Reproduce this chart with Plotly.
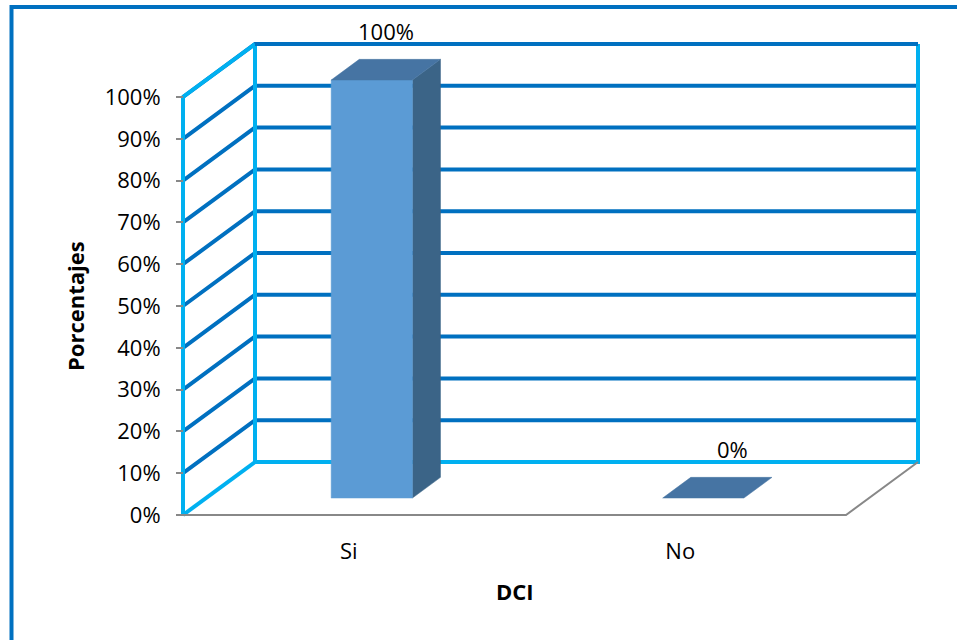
import plotly.graph_objects as go

# ---- data -------------------------------------------------------------
categories = ["Si", "No"]
values = [100, 0]
value_labels = ["100%", "0%"]
y_ticks = [0, 10, 20, 30, 40, 50, 60, 70, 80, 90, 100]
y_tick_labels = [f"{t}%" for t in y_ticks]
x_title = "DCI"
y_title = "Porcentajes"

# ---- styling / geometry of the pseudo-3D box ---------------------------
W, H = 957, 640
PX_X = 331.5          # pixels per category unit
PX_Y = 4.18           # pixels per percent
DX = 72 / PX_X        # depth offset in category units
DY = 53 / PX_Y        # depth offset in percent units
PAD = 6               # px of room around the box so edge lines are not clipped
FRONT_LEFT_PX, FLOOR_PX = 183, 515

D_FRONT, D_BACK = 0.32, 0.71   # bar depth position (fraction of the box depth)
HALF_W = 0.1225                # bar half width in category units

DARK = "#0070C0"
LIGHT = "#00B0F0"
GREY = "#888888"
FACE = "#5B9BD5"
TOP_FACE = "#4674A3"
SIDE_FACE = "#3B6487"
FONT = "Open Sans"
FS = 22

n = len(categories)
x0, x1 = -0.5, n - 0.5
ymax = max(y_ticks)

x_range = [x0 - PAD / PX_X, x1 + DX + PAD / PX_X]
y_range = [-PAD / PX_Y, ymax + DY + PAD / PX_Y]
plot_w = (x_range[1] - x_range[0]) * PX_X
plot_h = (y_range[1] - y_range[0]) * PX_Y
m_l = FRONT_LEFT_PX - PAD
m_r = W - m_l - plot_w
m_b = H - FLOOR_PX - PAD
m_t = H - m_b - plot_h


def proj(x, y, d):
    """Project a point at depth fraction d onto the 2-D axes."""
    return x + d * DX, y + d * DY


def segs(pairs):
    xs, ys = [], []
    for pts in pairs:
        for p in pts:
            xs.append(p[0]); ys.append(p[1])
        xs.append(None); ys.append(None)
    return xs, ys


def to_paper_x(px):
    return (px - m_l) / plot_w


def to_paper_y(py):
    return (H - m_b - py) / plot_h


fig = go.Figure()

# gridlines on side wall and back wall
grid = []
for t in y_ticks[1:]:
    grid.append([proj(x0, t, 0), proj(x0, t, 1), proj(x1, t, 1)])
gx, gy = segs(grid)
fig.add_trace(go.Scatter(x=gx, y=gy, mode="lines",
                         line=dict(color=DARK, width=4), hoverinfo="skip"))

# wall outlines
outline = [
    [proj(x0, 0, 0), proj(x0, ymax, 0), proj(x0, ymax, 1)],
    [proj(x0, 0, 0), proj(x0, 0, 1)],
    [proj(x0, 0, 1), proj(x0, ymax, 1)],
    [proj(x0, 0, 1), proj(x1, 0, 1), proj(x1, ymax, 1)],
]
ox, oy = segs(outline)
fig.add_trace(go.Scatter(x=ox, y=oy, mode="lines",
                         line=dict(color=LIGHT, width=4), hoverinfo="skip"))

# top edge of back wall
tx, ty = segs([[proj(x0, ymax, 1), proj(x1, ymax, 1)]])
fig.add_trace(go.Scatter(x=tx, y=ty, mode="lines",
                         line=dict(color=DARK, width=4), hoverinfo="skip"))

# floor edges
fx, fy = segs([[proj(x0, 0, 0), proj(x1, 0, 0), proj(x1, 0, 1)]])
fig.add_trace(go.Scatter(x=fx, y=fy, mode="lines",
                         line=dict(color=GREY, width=2), hoverinfo="skip"))


def poly(pts, color):
    xs = [p[0] for p in pts] + [pts[0][0]]
    ys = [p[1] for p in pts] + [pts[0][1]]
    fig.add_trace(go.Scatter(x=xs, y=ys, mode="lines", fill="toself",
                             fillcolor=color, line=dict(color=color, width=0.5),
                             hoverinfo="skip"))


# bars
for i, v in enumerate(values):
    l, r = i - HALF_W, i + HALF_W
    if v > 0:
        poly([proj(r, 0, D_FRONT), proj(r, 0, D_BACK),
              proj(r, v, D_BACK), proj(r, v, D_FRONT)], SIDE_FACE)
        poly([proj(l, 0, D_FRONT), proj(r, 0, D_FRONT),
              proj(r, v, D_FRONT), proj(l, v, D_FRONT)], FACE)
    poly([proj(l, v, D_FRONT), proj(r, v, D_FRONT),
          proj(r, v, D_BACK), proj(l, v, D_BACK)], TOP_FACE)

# value labels above each bar
for i, (v, lab) in enumerate(zip(values, value_labels)):
    lx, _ = proj(i, v, (D_FRONT + D_BACK) / 2)
    ly = v + D_BACK * DY
    fig.add_annotation(x=lx, y=ly, text=lab, showarrow=False,
                       xanchor="center", yanchor="middle",
                       yshift=28, xshift=0 if v > 0 else 15,
                       font=dict(family=FONT, size=FS, color="black"))

# axis titles, centred on the front plane of the box
fig.add_annotation(x=(x0 + x1) / 2, xref="x", y=to_paper_y(591), yref="paper",
                   xanchor="center", yanchor="middle",
                   text=f"<b>{x_title}</b>", showarrow=False,
                   font=dict(family=FONT, size=FS, color="black"))
fig.add_annotation(x=to_paper_x(75), xref="paper", y=ymax / 2, yref="y",
                   xanchor="center", yanchor="middle",
                   text=f"<b>{y_title}</b>", showarrow=False, textangle=-90,
                   font=dict(family=FONT, size=FS, color="black"))

# outer frame
fig.add_shape(type="rect", xref="paper", yref="paper",
              x0=to_paper_x(11.5), x1=to_paper_x(W + 10),
              y0=to_paper_y(H + 10), y1=to_paper_y(7),
              line=dict(color=DARK, width=4), layer="below")

fig.update_layout(
    width=W, height=H,
    margin=dict(l=m_l, r=m_r, t=m_t, b=m_b, pad=0),
    paper_bgcolor="white", plot_bgcolor="white",
    showlegend=False,
    font=dict(family=FONT, size=FS, color="black"),
    xaxis=dict(range=x_range, showgrid=False, zeroline=False, showline=False,
               tickvals=list(range(n)), ticktext=categories, ticks="",
               ticklabelstandoff=15),
    yaxis=dict(range=y_range, showgrid=False, zeroline=False, showline=False,
               anchor="free", position=PAD / plot_w,
               tickvals=y_ticks, ticktext=y_tick_labels,
               ticks="outside", ticklen=7, tickwidth=2, tickcolor=GREY,
               ticklabelstandoff=11),
)

fig.write_html("out.html")
